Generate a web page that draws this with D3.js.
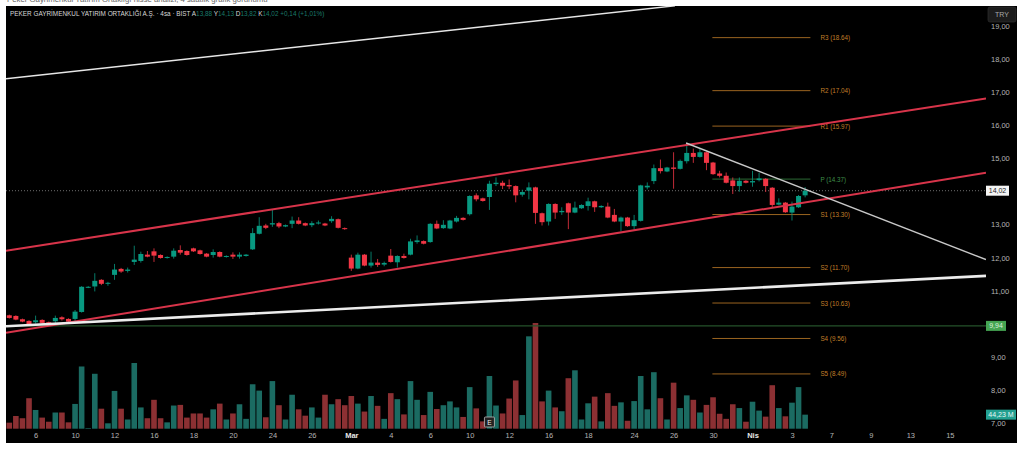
<!DOCTYPE html>
<html>
<head>
<meta charset="utf-8">
<script src="https://cdn.jsdelivr.net/npm/d3@7"></script>
<style>
  html, body { margin: 0; padding: 0; background: #fff; }
  svg { display: block; font-family: "Liberation Sans", "DejaVu Sans", sans-serif; }
</style>
</head>
<body>
<div id="chart"></div>
<script>
// 4 saatlik mumlar, soldan saga
const opens = [10.26,10.24,10.14,10.09,10.05,10.12,10.05,10.08,10.20,10.15,10.15,10.36,11.10,11.13,11.33,11.21,11.48,11.66,11.60,11.87,11.90,12.09,12.19,12.08,11.99,12.03,12.23,12.20,12.28,12.22,12.12,12.08,12.17,12.02,12.09,12.03,12.05,12.25,12.72,12.97,13.00,13.04,12.94,13.02,13.12,13.04,12.98,13.03,13.03,13.10,13.16,12.89,12.00,11.67,12.09,11.76,11.85,11.79,12.06,11.86,12.05,12.09,12.47,12.50,12.47,13.02,12.89,12.88,13.09,13.20,13.31,13.88,13.79,13.83,14.22,14.26,14.19,14.16,13.90,14.02,14.12,13.34,13.09,13.62,13.37,13.64,13.36,13.49,13.56,13.70,13.52,13.54,13.29,13.09,13.21,12.95,13.11,14.12,14.31,14.70,14.60,14.72,14.68,14.91,15.16,15.04,15.18,14.87,14.54,14.47,14.33,14.16,14.32,14.27,14.34,14.38,14.11,13.60,13.66,13.36,13.52,13.88];
const highs = [10.28,10.26,10.16,10.11,10.25,10.14,10.07,10.25,10.23,10.17,10.42,11.14,11.14,11.53,11.35,11.27,11.81,11.69,11.70,12.36,12.18,12.20,12.28,12.10,12.04,12.28,12.37,12.22,12.30,12.24,12.14,12.25,12.19,12.07,12.16,12.16,12.11,12.89,13.22,13.02,13.44,13.08,13.00,13.24,13.22,13.06,13.10,13.12,13.05,13.25,13.18,12.91,12.09,12.15,12.11,12.18,11.96,11.88,12.26,12.07,12.12,12.57,12.67,12.52,13.04,13.12,13.13,13.14,13.26,13.22,13.88,13.94,13.81,14.32,14.42,14.32,14.36,14.18,14.05,14.27,14.14,13.36,13.64,13.64,13.52,13.66,13.69,13.61,13.81,13.72,13.58,13.66,13.47,13.24,13.23,13.29,14.20,14.27,14.81,14.96,14.74,15.18,14.96,15.46,15.29,15.29,15.20,14.89,14.62,14.57,14.42,14.42,14.34,14.62,14.56,14.40,14.13,13.79,13.68,13.69,13.89,14.13];
const lows = [10.16,10.11,10.05,9.96,10.01,10.01,9.97,10.00,10.10,10.03,10.05,10.34,11.08,10.98,11.17,11.15,11.33,11.54,11.55,11.78,11.85,12.01,11.87,11.97,11.97,11.97,12.09,12.06,12.17,12.09,12.01,12.00,12.01,12.00,11.96,11.97,12.03,12.23,12.70,12.86,12.93,12.89,12.92,12.89,13.00,12.95,12.92,13.00,12.95,13.05,12.88,12.84,11.60,11.65,11.74,11.70,11.72,11.74,11.85,11.70,11.97,12.07,12.42,12.40,12.45,12.86,12.87,12.86,13.06,13.12,13.27,13.70,13.69,13.44,14.16,14.07,14.07,13.67,13.84,13.76,13.02,12.97,12.97,13.17,13.29,12.86,13.34,13.47,13.42,13.38,13.50,13.19,13.07,12.79,12.93,12.84,13.09,14.06,14.22,14.54,14.58,14.08,14.66,14.84,14.86,15.02,14.64,14.50,14.42,14.24,13.92,13.99,14.24,14.14,14.30,13.98,13.52,13.58,13.35,13.12,13.50,13.82];
const closes = [10.18,10.13,10.07,9.98,10.11,10.03,9.99,10.18,10.14,10.07,10.37,11.12,11.12,11.30,11.21,11.24,11.64,11.58,11.64,11.94,12.11,12.03,12.06,11.99,12.02,12.21,12.15,12.08,12.19,12.11,12.03,12.17,12.03,12.05,12.03,12.09,12.09,12.74,12.96,12.90,13.04,12.94,12.98,13.12,13.02,12.97,13.04,13.06,12.97,13.17,12.90,12.86,11.67,12.09,11.76,11.85,11.78,11.84,11.87,12.05,11.99,12.49,12.52,12.42,13.02,12.88,12.99,13.12,13.20,13.14,13.86,13.76,13.71,14.23,14.26,14.17,14.15,13.88,13.98,14.12,13.35,13.07,13.62,13.36,13.41,13.36,13.51,13.59,13.70,13.52,13.56,13.21,13.09,13.21,12.95,13.13,14.18,14.17,14.70,14.61,14.72,14.68,14.92,15.16,15.04,15.18,14.86,14.52,14.47,14.26,14.16,14.32,14.26,14.31,14.39,14.16,13.59,13.66,13.37,13.54,13.86,14.02];
// hacim, milyon lot
const volumes = [19,40,33,96,59,35,22,51,51,20,78,196,2,173,63,17,119,63,29,207,67,33,91,33,20,73,75,35,48,48,35,61,79,29,48,77,31,140,120,36,150,74,29,107,61,41,67,35,107,77,93,74,103,79,54,103,72,31,112,93,45,150,91,43,116,62,74,86,67,37,131,64,23,166,73,48,95,152,43,291,333,86,120,67,55,159,184,29,80,101,23,112,72,83,25,87,166,61,178,96,29,145,65,105,91,51,75,99,47,31,77,65,22,85,57,38,137,65,39,82,131,44.23];

// 10 ve 14 etiketleri fiyat kutularinin altinda kaliyor
const priceTicks = [7,8,9,11,12,13,15,16,17,18,19];
const timeTickBars = [4,10,16,22,28,34,40,46,52,58,64,70,76,82,88,95,101,107,113,119,125,131,137,143];
const timeTickLabels = ["6","10","12","16","18","20","24","26","Mar","4","6","10","12","16","18","24","26","30","Nis","3","7","9","13","15"];
const boldTimeLabels = ["Mar","Nis"];

// pivot seviyeleri
const pivotNames = ["R3","R2","R1","P","S1","S2","S3","S4","S5"];
const pivotValues = [18.64,17.04,15.97,14.37,13.30,11.70,10.63,9.56,8.49];
const pivotStartBar = 106.9, pivotEndBar = 121.8;

// cizilen trend cizgileri: [bar, fiyat, bar, fiyat]
const redChannel = [[-0.5,12.21,148.5,16.80],[-0.5,9.73,148.5,14.56]];
const whiteThin = [-0.5,17.40,101.2,19.60];
const whiteThick = [-0.5,9.93,148.5,11.45];
const grayTrend = [102.9,15.46,148.5,11.94];

const supportLevel = 9.94;
const lastPrice = 14.02;
const lastVolume = 44.23;
const earningsBar = 73;

const width = 1024, height = 450;
const panel = { left: 6, top: 6, right: 1017, bottom: 443 };
const plotRight = 986;

const upColor = "#089981", downColor = "#f23645";
const upVolColor = "#1b6b62", downVolColor = "#8c3033";
const axisTextColor = "#b4b4b4";

const x = d3.scaleLinear().domain([-0.5, 148.5]).range([panel.left, plotRight]);
const y = d3.scaleLinear().domain([7, 19]).range([423.3, 25.7]);
const volY = d3.scaleLinear().domain([0, 333]).range([428.7, 323]);

const fmt = d3.format(".2f");
const comma = v => fmt(v).replace(".", ",");

const svg = d3.select("#chart").append("svg")
    .attr("width", width)
    .attr("height", height);

svg.append("rect")
    .attr("x", panel.left)
    .attr("y", panel.top)
    .attr("width", panel.right - panel.left)
    .attr("height", panel.bottom - panel.top)
    .style("fill", "#000");

svg.append("clipPath").attr("id", "plotClip")
    .append("rect")
    .attr("x", panel.left)
    .attr("y", panel.top)
    .attr("width", plotRight - panel.left)
    .attr("height", panel.bottom - panel.top);

const plot = svg.append("g").attr("clip-path", "url(#plotClip)");

// ust kirpilmis baslik satiri
svg.append("clipPath").attr("id", "topClip")
    .append("rect").attr("x", 0).attr("y", 0).attr("width", width).attr("height", 4);
svg.append("text")
    .attr("clip-path", "url(#topClip)")
    .attr("x", 7)
    .attr("y", 2)
    .style("font-size", "7.8px")
    .style("fill", "#666")
    .text("Peker Gayrimenkul Yatırım Ortaklığı hisse analizi, 4 saatlik grafik görünümü");

// hacim barlari
const barW = 5.6;
plot.selectAll("rect.vol")
    .data(volumes)
    .enter().append("rect")
    .attr("class", "vol")
    .attr("x", (d, i) => x(i) - barW / 2)
    .attr("y", d => volY(d))
    .attr("width", barW)
    .attr("height", d => volY(0) - volY(d))
    .style("fill", (d, i) => closes[i] >= opens[i] ? upVolColor : downVolColor);

// destek cizgisi ve son fiyat
plot.append("line")
    .attr("x1", panel.left).attr("x2", plotRight)
    .attr("y1", y(supportLevel)).attr("y2", y(supportLevel))
    .style("stroke", "#24522a")
    .style("stroke-width", "1.2px");

plot.append("line")
    .attr("x1", panel.left).attr("x2", plotRight)
    .attr("y1", y(lastPrice)).attr("y2", y(lastPrice))
    .style("stroke", "#8a8a8a")
    .style("stroke-width", "0.8px")
    .style("stroke-dasharray", "1,2");

// pivotlar
pivotNames.forEach((name, i) => {
    const col = name == "P" ? "#2c6b35" : "#9a6420";
    plot.append("line")
        .attr("x1", x(pivotStartBar)).attr("x2", x(pivotEndBar))
        .attr("y1", y(pivotValues[i])).attr("y2", y(pivotValues[i]))
        .style("stroke", col)
        .style("stroke-width", "1px");
    plot.append("text")
        .attr("x", x(pivotEndBar) + 10)
        .attr("y", y(pivotValues[i]) + 2.5)
        .style("font-size", "6.3px")
        .style("fill", name == "P" ? "#3f8f4a" : "#c07f28")
        .text(name + " (" + fmt(pivotValues[i]) + ")");
});

// mumlar
const candleW = 5;
plot.selectAll("line.wick")
    .data(opens)
    .enter().append("line")
    .attr("class", "wick")
    .attr("x1", (d, i) => x(i)).attr("x2", (d, i) => x(i))
    .attr("y1", (d, i) => y(highs[i]))
    .attr("y2", (d, i) => y(lows[i]))
    .style("stroke", (d, i) => closes[i] >= d ? upColor : downColor)
    .style("stroke-width", "0.8px");

plot.selectAll("rect.body")
    .data(opens)
    .enter().append("rect")
    .attr("class", "body")
    .attr("x", (d, i) => x(i) - candleW / 2)
    .attr("y", (d, i) => y(Math.max(d, closes[i])))
    .attr("width", candleW)
    .attr("height", (d, i) => Math.max(1, Math.abs(y(d) - y(closes[i]))))
    .style("fill", (d, i) => closes[i] >= d ? upColor : downColor);

// trend cizgileri
function drawTrend(t, color, w) {
    plot.append("line")
        .attr("x1", x(t[0])).attr("y1", y(t[1]))
        .attr("x2", x(t[2])).attr("y2", y(t[3]))
        .style("stroke", color)
        .style("stroke-width", w + "px");
}
redChannel.forEach(t => drawTrend(t, "#d8344a", 2));
drawTrend(whiteThin, "#e6e6e6", 1.5);
drawTrend(whiteThick, "#ececec", 2.6);
drawTrend(grayTrend, "#c8c8c8", 1.4);

// eksenler
const yAxis = svg.append("g")
    .attr("transform", "translate(" + plotRight + ",0)")
    .call(d3.axisRight(y).tickValues(priceTicks).tickSize(0).tickPadding(5).tickFormat(comma));
yAxis.select(".domain").remove();
yAxis.selectAll("text")
    .style("font-family", '"Liberation Sans", sans-serif')
    .style("font-size", "7.5px")
    .style("fill", axisTextColor);

const xAxis = svg.append("g")
    .attr("transform", "translate(0,431)")
    .call(d3.axisBottom(x).tickValues(timeTickBars).tickSize(0).tickPadding(2)
        .tickFormat((d, i) => timeTickLabels[i]));
xAxis.select(".domain").remove();
xAxis.selectAll("text")
    .style("font-family", '"Liberation Sans", sans-serif')
    .style("font-size", "7.5px")
    .style("font-weight", (d, i) => boldTimeLabels.includes(timeTickLabels[i]) ? "bold" : "normal")
    .style("fill", (d, i) => boldTimeLabels.includes(timeTickLabels[i]) ? "#e8e8e8" : axisTextColor);

// fiyat etiketleri
function priceTag(yPos, w, label, fill, textFill) {
    svg.append("rect")
        .attr("x", plotRight)
        .attr("y", yPos - 5)
        .attr("width", w)
        .attr("height", 10)
        .style("fill", fill);
    svg.append("text")
        .attr("x", plotRight + w / 2)
        .attr("y", yPos + 2.5)
        .attr("text-anchor", "middle")
        .style("font-size", "7px")
        .style("fill", textFill)
        .text(label);
}
priceTag(y(lastPrice), 23, comma(lastPrice), "#f4f4f4", "#222");
priceTag(y(supportLevel), 20, comma(supportLevel), "#45a452", "#d8f0da");
priceTag(volY(lastVolume), 30, comma(lastVolume) + " M", "#22a090", "#e6f7f4");

// para birimi kutusu
svg.append("rect")
    .attr("x", 988).attr("y", 7)
    .attr("width", 28).attr("height", 15)
    .attr("rx", 2)
    .style("fill", "#1c1c1c")
    .style("stroke", "#2e2e2e")
    .style("stroke-width", "0.7px");
svg.append("text")
    .attr("x", 1002).attr("y", 17)
    .attr("text-anchor", "middle")
    .style("font-size", "7px")
    .style("fill", "#a8a8a8")
    .text("TRY");

// E rozeti
svg.append("rect")
    .attr("x", x(earningsBar) - 5).attr("y", 417)
    .attr("width", 10).attr("height", 10)
    .attr("rx", 1)
    .style("fill", "#222")
    .style("stroke", "#bbb")
    .style("stroke-width", "0.8px");
svg.append("text")
    .attr("x", x(earningsBar)).attr("y", 424.5)
    .attr("text-anchor", "middle")
    .style("font-size", "6.5px")
    .style("fill", "#eee")
    .text("E");

// baslik
const header = svg.append("text")
    .attr("x", 10)
    .attr("y", 16)
    .style("font-size", "6.4px")
    .style("fill", "#d8d8d8");
header.append("tspan").text("PEKER GAYRİMENKUL YATIRIM ORTAKLIĞI A.Ş. · 4sa · BIST  A");
[["13,88"," Y"],["14,13"," D"],["13,82"," K"],["14,02"," "]].forEach(p => {
    header.append("tspan").style("fill", "#1a7a6a").text(p[0]);
    header.append("tspan").text(p[1]);
});
header.append("tspan").style("fill", "#1a7a6a").text(" +0,14 (+1,01%)");
</script>
</body>
</html>
